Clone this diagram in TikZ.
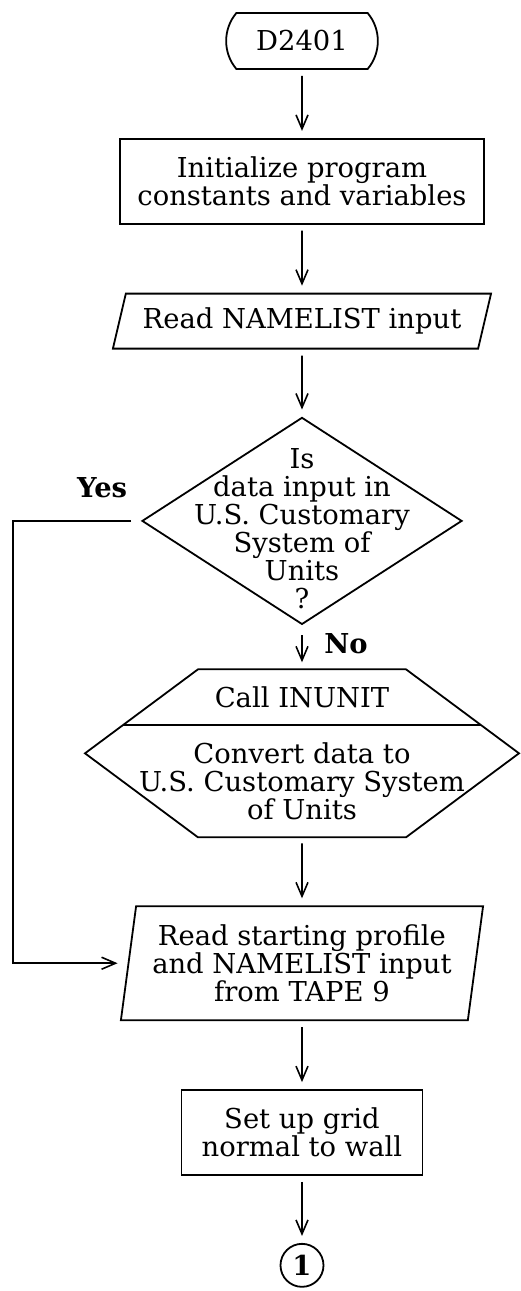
\documentclass[tikz,border=0pt]{standalone}
\usepackage{fontspec}
\setmainfont{DejaVu Serif}
\usetikzlibrary{positioning}
\usetikzlibrary{shapes.geometric}
\usetikzlibrary{shapes.misc}
\usetikzlibrary{arrows.meta}
\usetikzlibrary{calc}

\begin{document}
\begin{tikzpicture}
		[every node/.style={font=\fontsize{13.7pt}{14pt}\selectfont},
		box/.style={rectangle, draw=black, line width=0.9pt, align=center},
		terminal/.style={rounded rectangle, rounded rectangle arc length=80, draw=black, line width=0.9pt, minimum width=82.5pt, minimum height=28pt},
		inout/.style={trapezium, trapezium stretches=true, draw=black, line width=0.9pt, align=center},
		decision/.style={diamond, draw=black, line width=0.9pt, inner sep=0pt, minimum width=160pt, minimum height=103.5pt},
		answer/.style={font=\fontsize{13.7pt}{14pt}\selectfont\bfseries},
		flow/.style={->, line width=0.8pt, shorten <=3pt, shorten >=3.5pt},
		>={Straight Barb[length=7pt,width=6pt]},
		node distance=34pt]
		\useasboundingbox (0,0) rectangle (260pt,-645.5pt);
		\node[terminal] (start) at (151pt,-20.5pt) {D2401};
		\node[box, below=of start, minimum width=182pt, minimum height=42.5pt] (init) {Initialize program\\constants and variables};
		\node[inout, below=of init, trapezium left angle=73, trapezium right angle=107, minimum width=189.5pt, minimum height=27.5pt] (namelist) {Read NAMELIST input};
		\node[decision, below=33.5pt of namelist, label={[align=center, yshift=-4pt]center:Is\\data input in\\U.S. Customary\\System of\\Units\\?}] (units) {};
		\node[below=22pt of units, outer sep=0pt, minimum width=104pt, minimum height=84pt] (inunit) {};
		\node (call) at ($(inunit.north)!1/6!(inunit.south)$) {Call INUNIT};
		\node[align=center] (convert) at ($(inunit.north)!2/3!(inunit.south)$) {Convert data to\\U.S. Customary System\\of Units};
		\node[inout, below=34pt of inunit, trapezium left angle=81, trapezium right angle=99, minimum width=181.5pt, minimum height=57pt] (tape) {Read starting profile\\and NAMELIST input\\from TAPE 9};
		\node[box, below=of tape, minimum width=120.5pt, minimum height=42.5pt] (grid) {Set up grid\\normal to wall};
		\node[circle, draw=black, line width=0.9pt, inner sep=0pt, minimum size=21.5pt, below=33.5pt of grid, answer] (conn) {1};

		% hexagon round the INUNIT call
		\coordinate (hexleft) at ([xshift=-56.5pt]inunit.west);
		\coordinate (hexright) at ([xshift=56.5pt]inunit.east);
		\draw[line width=0.9pt] (inunit.north west) -- (inunit.north east) -- (hexright) -- (inunit.south east) -- (inunit.south west) -- (hexleft) -- cycle;
		\draw[line width=0.9pt] ($(inunit.north west)!2/3!(hexleft)$) -- ($(inunit.north east)!2/3!(hexright)$);

		\draw[flow] (start) -- (init);
		\draw[flow] (init) -- (namelist);
		\draw[flow] (namelist) -- (units);
		\draw[flow, shorten <=5pt] (units) -- (inunit);
		\draw[flow] (inunit) -- (tape);
		\draw[flow] (tape) -- (grid);
		\draw[flow] (grid) -- (conn);

		% yes branch
		\coordinate (yesrun) at (6.5pt,0);
		\draw[flow, shorten <=5pt, shorten >=5pt] (units.west) -- (units.west -| yesrun) |- (tape.west);
		\node[answer] (yes) at ([shift={(-19.5pt,16.5pt)}]units.west) {Yes};
		\node[answer] (no) at ([shift={(22pt,-9pt)}]units.south) {No};
	\end{tikzpicture}
\end{document}
